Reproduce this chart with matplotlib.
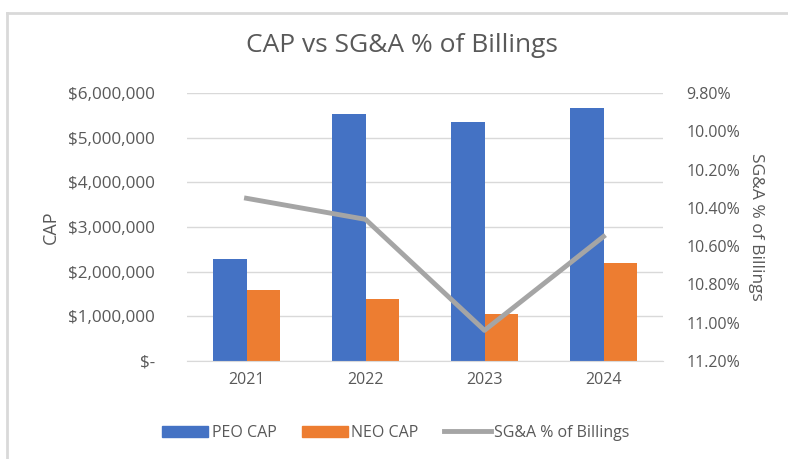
import matplotlib.pyplot as plt
import numpy as np
from matplotlib.ticker import FuncFormatter
from matplotlib.lines import Line2D
from matplotlib.patches import Patch

#--data
years = ['2021', '2022', '2023', '2024']
peo_cap = [2290000, 5520000, 5340000, 5670000]
neo_cap = [1600000, 1380000, 1060000, 2200000]
sga_pct = [10.35, 10.46, 11.04, 10.55]

blue = '#4472C4'
orange = '#ED7D31'
grey = '#A5A5A5'
txt = '#595959'

plt.rcParams['font.family'] = ['Open Sans', 'DejaVu Sans']

fig = plt.figure(figsize=(7.88, 4.59), dpi=100)
ax = fig.add_axes([187/788, 1-361/459, (663-187)/788, (361-93)/459])

x = np.arange(len(years))
w = 0.285
ax.bar(x - w/2, peo_cap, width=w, color=blue, zorder=2)
ax.bar(x + w/2, neo_cap, width=w, color=orange, zorder=2)

ax.set_xlim(-0.5, 3.5)
ax.set_ylim(0, 6000000)
ax.set_yticks(np.arange(0, 6000001, 1000000))
ax.yaxis.set_major_formatter(FuncFormatter(lambda v, p: '$-' if v == 0 else '${:,.0f}'.format(v)))
ax.set_xticks(x)
ax.set_xticklabels(years)
ax.grid(axis='y', color='#D9D9D9', linewidth=1, zorder=0)
for s in ax.spines.values():
    s.set_visible(False)
ax.spines['bottom'].set_visible(True)
ax.spines['bottom'].set_color('#D9D9D9')
ax.tick_params(length=0, colors=txt, labelsize=11.5, pad=8)
ax.tick_params(axis='y', labelsize=12.3, pad=23)
ax.set_ylabel('CAP', color=txt, fontsize=13, labelpad=6)

ax2 = ax.twinx()
ax2.plot(x, sga_pct, color=grey, linewidth=3.5, zorder=3)
ax2.set_ylim(11.2, 9.8)
ax2.set_yticks(np.arange(9.8, 11.21, 0.2))
ax2.yaxis.set_major_formatter(FuncFormatter(lambda v, p: '{:.2f}%'.format(v)))
for s in ax2.spines.values():
    s.set_visible(False)
ax2.tick_params(length=0, colors=txt, labelsize=11.5, pad=17)
ax2.set_ylabel('SG&A % of Billings', color=txt, fontsize=12.5, rotation=270, labelpad=17)

fig.text(0.51, 1-46/459, 'CAP vs SG&A % of Billings', ha='center', va='center', fontsize=19, color=txt)

handles = [Patch(color=blue, label='PEO CAP'), Patch(color=orange, label='NEO CAP'),
           Line2D([0], [0], color=grey, linewidth=3.5, label='SG&A % of Billings')]
leg = fig.legend(handles=handles, loc='center', bbox_to_anchor=(0.502, 1-433/459), ncol=3, frameon=False,
                 fontsize=11.5, handlelength=2.9, handleheight=0.7, columnspacing=1.6, handletextpad=0.2)
for t in leg.get_texts():
    t.set_color(txt)

#--chart frame
fig.add_artist(Line2D([7/788, 1], [1-13/459, 1-13/459], color='#D9D9D9', linewidth=2, transform=fig.transFigure))
fig.add_artist(Line2D([7/788, 7/788], [0, 1-13/459], color='#D9D9D9', linewidth=2, transform=fig.transFigure))

fig.savefig('out.png', dpi=100)
